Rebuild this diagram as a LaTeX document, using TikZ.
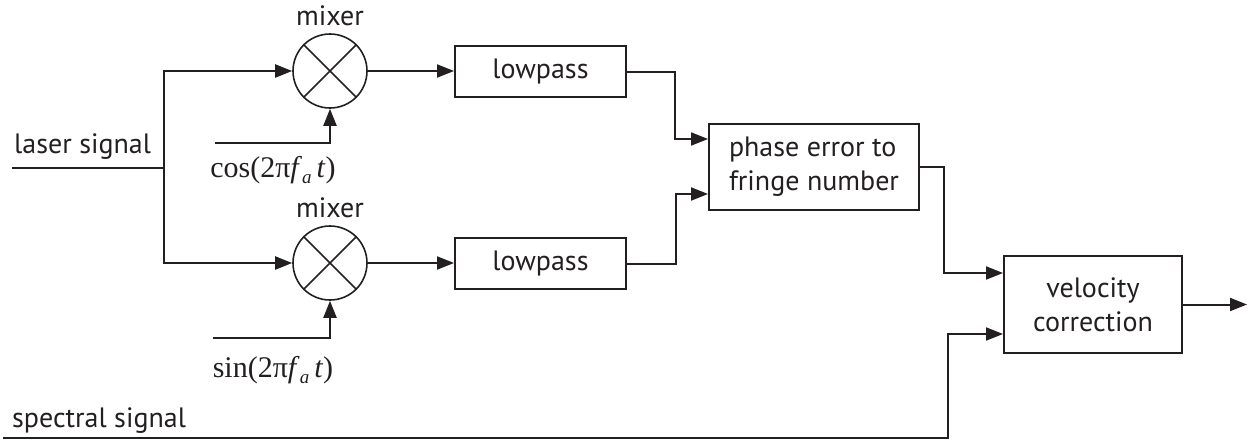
\documentclass[tikz,border=0pt]{standalone}
\usepackage{fontspec}
\setmainfont{PT Sans}
\newfontfamily\tms{Liberation Serif}
\usetikzlibrary{arrows.meta}
\definecolor{ink}{RGB}{35,31,32}
\newcommand{\subA}{\raisebox{-6pt}{\fontsize{19}{19}\selectfont\textit{a}}}
\begin{document}
\begin{tikzpicture}[x=1pt,y=-1pt,color=ink,
  every node/.style={font=\fontsize{28}{34}\selectfont,text=ink},
  ln/.style={line width=2pt},
  arr/.style={ln,-{Triangle[length=17pt,width=13pt]}},
  blk/.style={draw,line width=2pt,inner sep=0pt,align=center},
  mix/.style={draw,circle,line width=1.6pt,minimum size=74pt,inner sep=0pt},
  lbl/.style={inner sep=0pt},
  mlbl/.style={inner sep=0pt,font=\fontsize{30}{34}\selectfont\tms}
]
\useasboundingbox (0,0) rectangle (1247,440);

% mixers
\node[mix] (m1) at (330,71) {};
\node[mix] (m2) at (330,263) {};
\draw[line width=1.6pt] (m1.45)--(m1.225) (m1.135)--(m1.315);
\draw[line width=1.6pt] (m2.45)--(m2.225) (m2.135)--(m2.315);
\node[lbl,anchor=base] (mx1) at (330,25) {mixer};
\node[lbl,anchor=base] (mx2) at (330,217) {mixer};

% blocks
\node[blk,minimum width=171pt,minimum height=51pt] (lp1) at (540.5,71.5) {lowpass};
\node[blk,minimum width=171pt,minimum height=51pt] (lp2) at (540.5,263.5) {lowpass};
\node[blk,minimum width=210pt,minimum height=86pt,align=left] (ph) at (814,167) {phase error to\\fringe number};
\node[blk,minimum width=178pt,minimum height=97pt] (vc) at (1093,304.5) {velocity\\correction};

% labels
\node[lbl,anchor=base west] (tl) at (14,153) {laser signal};
\node[lbl,anchor=base west] (ts) at (12,427) {spectral signal};
\node[mlbl,anchor=base] (tc) at (273,177) {cos(2π\textit{f}\subA\,\textit{t})};
\node[mlbl,anchor=base] (tsn) at (273,377) {sin(2π\textit{f}\subA\,\textit{t})};

% coordinates
\coordinate (ls) at (12,168);
\coordinate (j) at (164,168);
\coordinate (c1) at (215,143);
\coordinate (c2) at (213,338);
\coordinate (ss) at (3,438);
\coordinate (out) at (1247,304.5);

% connectors
\draw[ln] (ls) -- (j);
\draw[arr] (j) |- (m1);
\draw[arr] (j) |- (m2);
\draw[arr] (c1) -| (m1);
\draw[arr] (c2) -| (m2);
\draw[arr] (m1.east) -- (m1.east -| lp1.west);
\draw[arr] (m2.east) -- (m2.east -| lp2.west);
\draw[arr] (lp1.east) -- (675,71.5) |- ([yshift=28pt]ph.west);
\draw[arr] (lp2.east) -- (676,263.5) |- ([yshift=-27pt]ph.west);
\draw[arr] (ph.east) -- (944,167) |- ([yshift=31.5pt]vc.west);
\draw[arr] (ss) -- (948,438) |- ([yshift=-29.5pt]vc.west);
\draw[arr] (vc) -- (out);
\end{tikzpicture}
\end{document}
